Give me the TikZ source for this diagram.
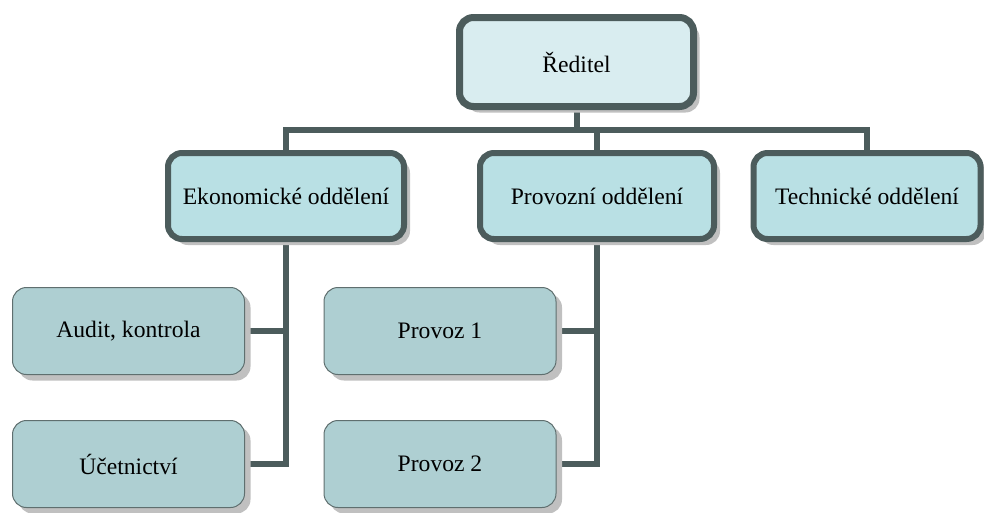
\documentclass[tikz,border=0pt]{standalone}
\usepackage{fontspec}
\setmainfont{Liberation Serif}
\usetikzlibrary{shadows,backgrounds}
\definecolor{bordc}{HTML}{4C5C5C}
\definecolor{topfill}{HTML}{D9EDF0}
\definecolor{midfill}{HTML}{B9E0E4}
\definecolor{leaffill}{HTML}{AECFD2}
\definecolor{leafbord}{HTML}{5F6F6F}
\definecolor{shadowc}{HTML}{C0C0C0}
\tikzset{
  boxbase/.style={rounded corners=14pt, align=center, inner sep=0pt,
    font=\fontsize{23.6}{28}\selectfont,
    drop shadow={shadow xshift=6pt, shadow yshift=-6pt, fill=shadowc, opacity=1}},
  topbox/.style={boxbase, draw=bordc, fill=topfill, line width=7pt,
    minimum width=234pt, minimum height=89pt},
  midbox/.style={boxbase, draw=bordc, fill=midfill, line width=6pt,
    minimum height=86pt},
  leafbox/.style={boxbase, draw=leafbord, fill=leaffill, line width=1pt,
    minimum width=232pt, minimum height=87pt},
  conn/.style={draw=bordc, line width=6pt, line join=miter}
}
\begin{document}
\begin{tikzpicture}[x=1pt,y=-1pt]
\useasboundingbox (0,0) rectangle (984,512);
\coordinate (bus) at (0,130);
\node[topbox] (red) at (576.5,62) {Ředitel};
\node[midbox, minimum width=236pt] (ekon) at (286,196) {Ekonomické oddělení};
\node[midbox, minimum width=234pt] (prov) at (597,196) {Provozní oddělení};
\node[midbox, minimum width=227pt] (tech) at (867,196) {Technické oddělení};
\node[leafbox] (audit) at (128.5,331) {Audit, kontrola};
\node[leafbox] (ucet) at (128.5,464) {Účetnictví};
\node[leafbox] (prov1) at (440,331) {Provoz 1};
\node[leafbox] (prov2) at (440,464) {Provoz 2};
\begin{scope}[on background layer]
\draw[conn] (ekon.north) -- (ekon.north |- bus) -- (tech.north |- bus) -- (tech.north);
\draw[conn] (prov.north) -- (prov.north |- bus);
\draw[conn] (red.south) -- (red.south |- bus);
\draw[conn] (ekon.south) -- (ekon.south |- ucet.east) -- (ucet.east);
\draw[conn] (audit.east) -- (audit.east -| ekon.south);
\draw[conn] (prov.south) -- (prov.south |- prov2.east) -- (prov2.east);
\draw[conn] (prov1.east) -- (prov1.east -| prov.south);
\end{scope}
\end{tikzpicture}
\end{document}
